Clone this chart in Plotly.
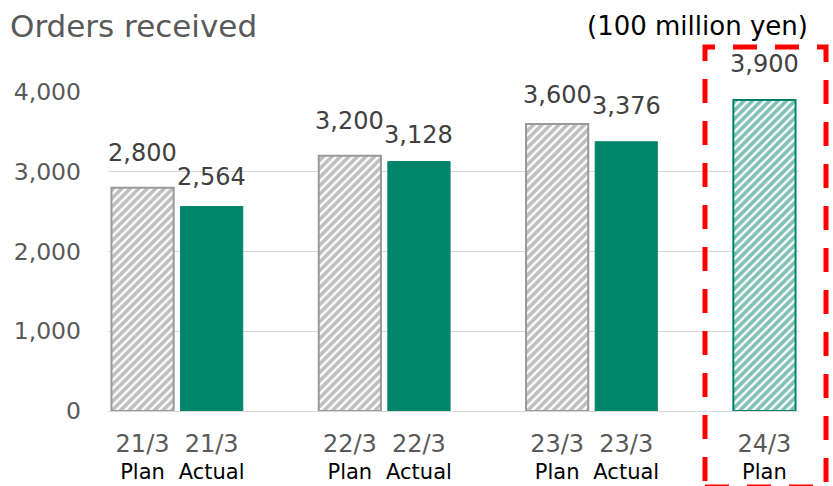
import plotly.graph_objects as go

groups = ["21/3", "22/3", "23/3", "24/3"]
plan = [2800, 3200, 3600, 3900]
actual = [2564, 3128, 3376, None]
plan_label = "Plan"
actual_label = "Actual"
y_ticks = [0, 1000, 2000, 3000, 4000]

# label offsets above bar tops (pixels), styling only
plan_label_shift = [19, 19, 13, 20]
actual_label_shift = [14, 11, 20, None]

GREEN = "#00856A"
GRAY = "#7F7F7F"
FONT = "DejaVu Sans"

# plot area in pixels
L, R, T, B = 108, 799, 92, 411
W, H = 833, 486
PW, PH = R - L, B - T

def px_x(p):
    return (p - L) / PW

def px_y(p):
    return (B - p) / PH

plan_x = [i * 3 for i in range(len(groups))]
act_idx = [i for i in range(len(groups)) if actual[i] is not None]
act_x = [i * 3 + 1 for i in act_idx]
act_y = [actual[i] for i in act_idx]

is_future = [i == len(groups) - 1 for i in range(len(groups))]
fg = [GREEN if f else GRAY for f in is_future]
line_c = [GREEN if f else "#999999" for f in is_future]

fig = go.Figure()
fig.add_trace(go.Bar(
    x=plan_x, y=plan, width=0.9,
    marker=dict(color="white",
                pattern=dict(shape="/", fgcolor=fg, bgcolor="white", size=6, solidity=0.62, fillmode="overlay"),
                line=dict(color=line_c, width=2)),
    hoverinfo="skip", showlegend=False,
))
fig.add_trace(go.Bar(
    x=act_x, y=act_y, width=0.9,
    marker=dict(color=GREEN, line=dict(color=GREEN, width=1)),
    hoverinfo="skip", showlegend=False,
))

annotations = []
label_items = [(plan_x[i], plan[i], plan_label_shift[i]) for i in range(len(groups))]
label_items += [(act_x[k], act_y[k], actual_label_shift[i]) for k, i in enumerate(act_idx)]
for x, v, s in label_items:
    annotations.append(dict(x=x, y=v, xref="x", yref="y", text=f"{v:,}", showarrow=False,
                            yanchor="bottom", yshift=s,
                            font=dict(family=FONT, size=24, color="#404040")))

annotations.append(dict(xref="paper", yref="paper", x=px_x(810), y=px_y(26),
                        xanchor="right", yanchor="middle", showarrow=False,
                        text="(100 million yen)", font=dict(family=FONT, size=26, color="#000000")))

tickvals, ticktext = [], []
for i, g in enumerate(groups):
    tickvals.append(plan_x[i])
    ticktext.append(f"<span style='color:#595959;font-size:24px'>{g}</span><br><span style='color:#000000;font-size:21px'>{plan_label}</span>")
    if actual[i] is not None:
        tickvals.append(plan_x[i] + 1)
        ticktext.append(f"<span style='color:#595959;font-size:24px'>{g}</span><br><span style='color:#000000;font-size:21px'>{actual_label}</span>")

fig.update_layout(
    width=W, height=H,
    margin=dict(l=L, r=W - R, t=T, b=H - B, autoexpand=False),
    paper_bgcolor="white", plot_bgcolor="white",
    font=dict(family=FONT, size=22, color="#595959"),
    title=dict(text="Orders received", x=10 / W, xanchor="left", xref="container",
               y=1 - 26 / H, yanchor="middle", yref="container",
               font=dict(family=FONT, size=31, color="#595959")),
    annotations=annotations,
    xaxis=dict(range=[-0.5, 9.5], tickvals=tickvals, ticktext=ticktext, showgrid=False,
               showline=False, zeroline=False, ticks="", automargin=False,
               ticklabelstandoff=19, tickfont=dict(family=FONT, size=21)),
    yaxis=dict(range=[0, 4000], tickvals=y_ticks, tickformat=",", showgrid=True, gridcolor="#D9D9D9",
               gridwidth=1, zeroline=True, zerolinecolor="#D9D9D9", zerolinewidth=1,
               ticks="", ticklabelstandoff=26, automargin=False,
               tickfont=dict(family=FONT, size=23.5, color="#595959")),
    shapes=[dict(type="rect", xref="paper", yref="paper",
                 x0=px_x(705), x1=px_x(826), y0=px_y(487), y1=px_y(47),
                 line=dict(color="#FF0000", width=5, dash="24px,18px"), fillcolor="rgba(0,0,0,0)",
                 layer="above")],
)

fig.write_html("out.html", config={"displayModeBar": False},
               post_script="document.body.style.margin='0';document.body.style.overflow='hidden';")
